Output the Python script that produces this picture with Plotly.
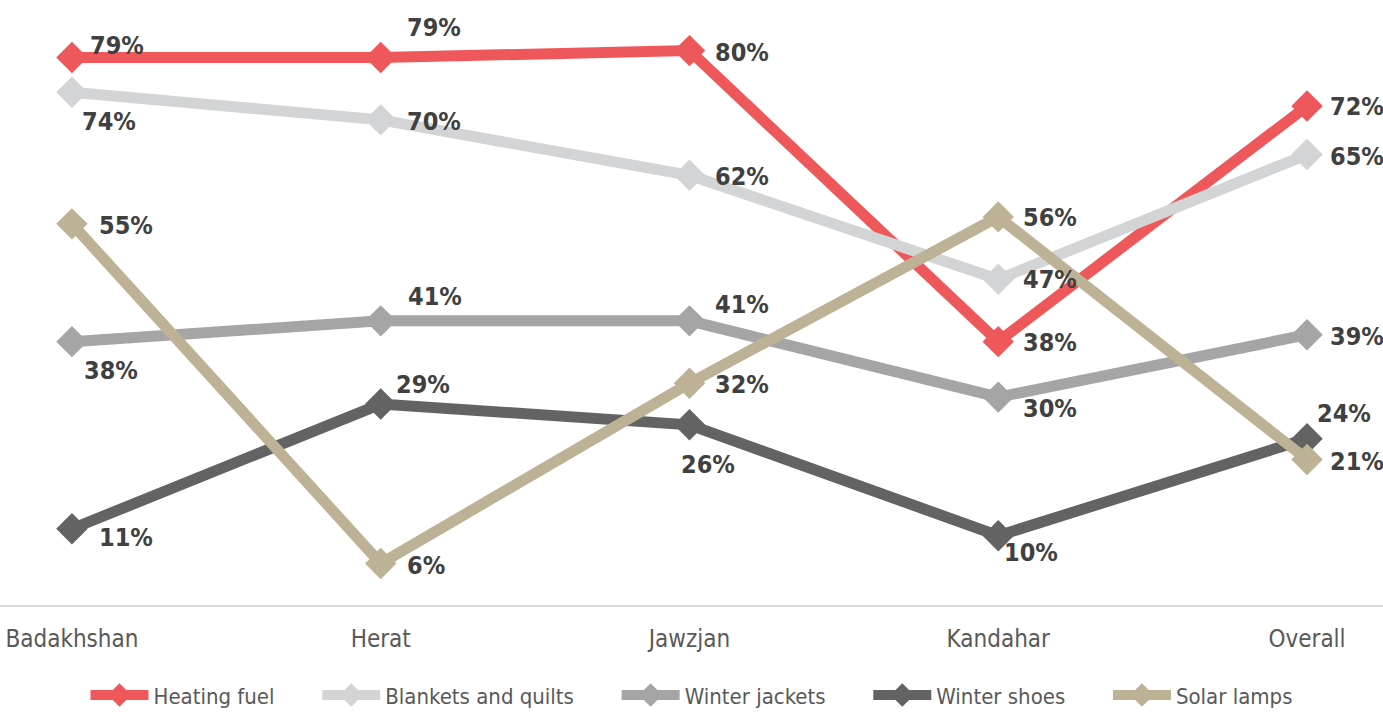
import plotly.graph_objects as go

categories = ["Badakhshan", "Herat", "Jawzjan", "Kandahar", "Overall"]
heating_fuel = [79, 79, 80, 38, 72]
blankets = [74, 70, 62, 47, 65]
winter_jackets = [38, 41, 41, 30, 39]
winter_shoes = [11, 29, 26, 10, 24]
solar_lamps = [55, 6, 32, 56, 21]

series_names = ["Heating fuel", "Blankets and quilts", "Winter jackets", "Winter shoes", "Solar lamps"]
series_values = [heating_fuel, blankets, winter_jackets, winter_shoes, solar_lamps]
colors = ["#EE585B", "#D3D4D6", "#A5A5A5", "#636363", "#BDB296"]

# label offsets (xshift, yshift) in px for each point
label_offsets = [
    [(16, 12), (24, 30), (24, -2), (23, -1), (21, 0)],
    [(8, -29), (24, -2), (24, -1), (23, 0), (21, -2)],
    [(10, -29), (25, 24), (24, 16), (23, -11), (21, -2)],
    [(25, -9), (13, 20), (-10, -40), (4, -17), (8, 25)],
    [(25, -2), (24, -2), (24, -1), (23, -1), (21, -2)],
]

NARROW = "DejaVu Sans Condensed, sans-serif"
PAD = "\u00a0" * 6

fig = go.Figure()
for i, (name, vals, col) in enumerate(zip(series_names, series_values, colors)):
    legend_name = name + (PAD if i < len(series_names) - 1 else "")
    fig.add_trace(go.Scatter(
        x=categories, y=vals, name=legend_name, mode="lines+markers",
        line=dict(color=col, width=11),
        marker=dict(symbol="diamond", size=22, color=col, line=dict(color=col, width=2)),
        hoverinfo="skip",
    ))

annotations = []
for vals, offs in zip(series_values, label_offsets):
    for c, v, (dx, dy) in zip(categories, vals, offs):
        annotations.append(dict(
            x=c, y=v, text=f"<b>{v}%</b>", showarrow=False,
            xanchor="left", yanchor="middle", xshift=dx, yshift=dy,
            font=dict(family=NARROW, size=25, color="#404040"),
        ))

fig.update_layout(
    width=1383, height=712,
    margin=dict(l=0, r=0, t=0, b=107, autoexpand=False),
    paper_bgcolor="white", plot_bgcolor="white",
    showlegend=True,
    legend=dict(orientation="h", x=0.5, xanchor="center", y=-0.149, yanchor="middle",
                font=dict(family=NARROW, size=22, color="#595959"),
                itemwidth=58, tracegroupgap=0),
    annotations=annotations,
    xaxis=dict(range=[-0.233, 4.246], showgrid=False, zeroline=False, automargin=False,
               showline=True, linecolor="#D9D9D9", linewidth=2,
               tickfont=dict(family=NARROW, size=24, color="#595959"),
               ticks="", ticklabelstandoff=11),
    yaxis=dict(range=[0, 87.3], showgrid=False, zeroline=False, showline=False,
               automargin=False, showticklabels=False, ticks=""),
)

fig.write_html("out.html", config={"displayModeBar": False},
               post_script="document.body.style.margin='0';")
